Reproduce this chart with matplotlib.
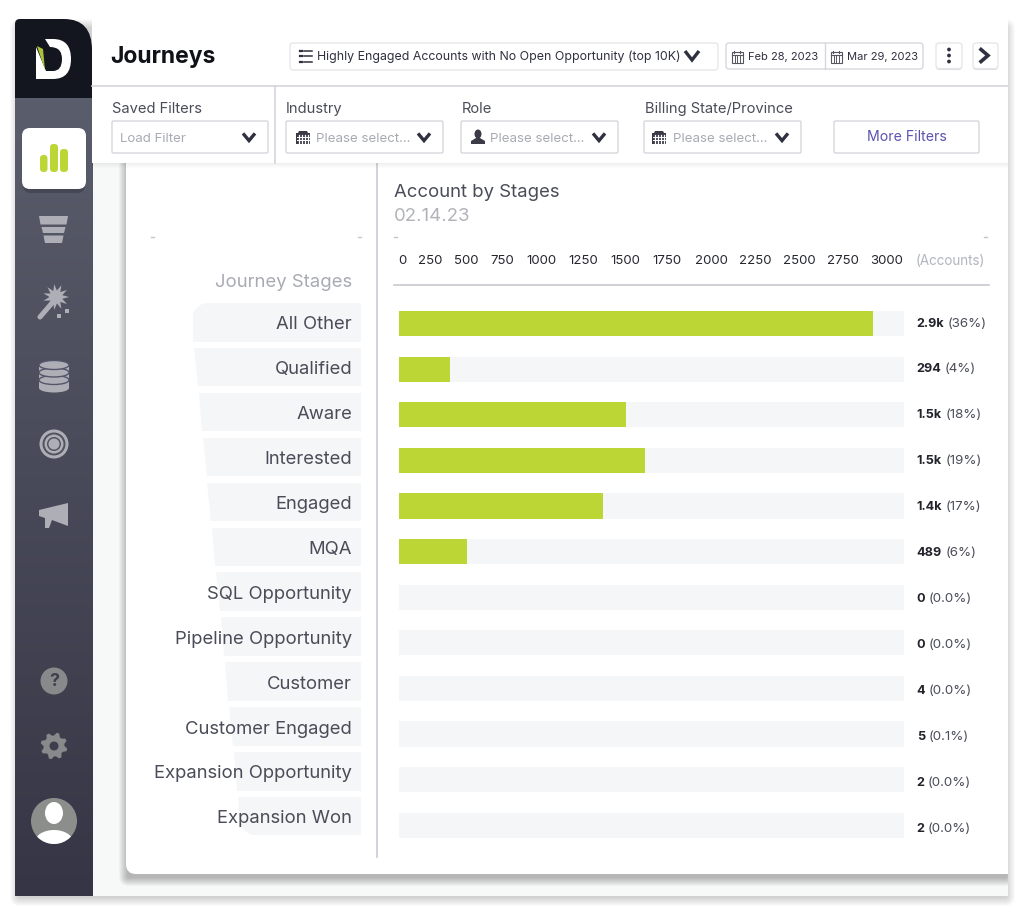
import matplotlib
matplotlib.use("Agg")
import matplotlib.pyplot as plt
import numpy as np
from matplotlib.patches import Circle, Ellipse, FancyBboxPatch, PathPatch, Polygon, Rectangle
from matplotlib.path import Path

plt.rcParams["font.family"] = ["Inter", "DejaVu Sans"]

# chart data
stages = ["All Other", "Qualified", "Aware", "Interested", "Engaged", "MQA", "SQL Opportunity",
          "Pipeline Opportunity", "Customer", "Customer Engaged", "Expansion Opportunity", "Expansion Won"]
bar_lengths = [2900, 312, 1389, 1505, 1248, 416, 0, 0, 0, 0, 0, 0]  # drawn length, on the track scale
value_labels = ["2.9k", "294", "1.5k", "1.5k", "1.4k", "489", "0", "0", "4", "5", "2", "2"]
share_labels = ["(36%)", "(4%)", "(18%)", "(19%)", "(17%)", "(6%)",
                "(0.0%)", "(0.0%)", "(0.0%)", "(0.1%)", "(0.0%)", "(0.0%)"]
axis_labels = ["0", "250", "500", "750", "1000", "1250", "1500", "1750", "2000", "2250", "2500", "2750", "3000"]
axis_label_px = [402, 430, 466, 502, 541, 583, 625, 667, 711, 755, 799, 843, 887]  # labels are not evenly spaced
track_max = 3090

LIME = "#bcd735"
TRACK = "#f5f6f8"
TEXT = "#4a4c58"
MUTED = "#a9abb3"
ICON = "#aeafb6"
DARK = "#2f3040"

fig = plt.figure(figsize=(10.24, 9.16), dpi=100, facecolor="white")
ui = fig.add_axes([0, 0, 1, 1])
ui.set_xlim(0, 1024)
ui.set_ylim(916, 0)
ui.axis("off")


def round_box(x0, y0, x1, y1, r=3, fc="white", ec="none", lw=1, z=3, alpha=None):
    p = FancyBboxPatch((x0 + r, y0 + r), x1 - x0 - 2 * r, y1 - y0 - 2 * r,
                       boxstyle=f"round,pad={r},rounding_size={r}",
                       fc=fc, ec=ec, lw=lw, zorder=z, alpha=alpha)
    ui.add_patch(p)
    return p


def soft_shadow(x0, y0, x1, y1, spread=9, dy=0, strength=0.018, z=1, clip=None):
    for s in range(spread, 0, -1):
        p = round_box(x0 - s, y0 - s + dy, x1 + s, y1 + s + dy, r=s + 1, fc="black", z=z, alpha=strength)
        if clip is not None:
            p.set_clip_path(clip)


def label(x, y, s, size, **kw):
    # y is the middle of the capitals, so descenders do not move the text
    kw.setdefault("zorder", 7)
    ui.text(x, y + 0.36 * size * 100 / 72, s, fontsize=size, va="baseline", **kw)


def chevron(x, y, w=6, h=3.6, color=DARK, lw=2.4, z=6):
    ui.plot([x - w, x, x + w], [y - h, y + h, y - h], color=color, lw=lw, solid_capstyle="butt",
            solid_joinstyle="miter", zorder=z)


def building(x, y, z=6):
    ui.add_patch(Rectangle((x - 7, y - 5), 14, 11, fc="#3a3b47", ec="none", zorder=z))
    ui.add_patch(Polygon([(x - 5, y - 5), (x - 4, y - 7), (x + 4, y - 7), (x + 5, y - 5)], fc="#3a3b47", zorder=z))
    for dx in (-4.5, -1.5, 1.5, 4.5):
        ui.plot([x + dx, x + dx], [y - 3.5, y + 5], color="white", lw=0.9, zorder=z + 1)
    for dy in (-1, 2):
        ui.plot([x - 6, x + 6], [y + dy, y + dy], color="white", lw=0.7, zorder=z + 1)


def person(x, y, color="#3a3b47", z=6):
    ui.add_patch(Ellipse((x, y - 3), 7, 9, fc=color, zorder=z))
    ui.add_patch(Polygon([(x - 7, y + 7), (x - 7, y + 4), (x - 2, y + 1), (x + 2, y + 1), (x + 7, y + 4), (x + 7, y + 7)],
                         fc=color, zorder=z))


def calendar(x, y, z=6):
    ui.add_patch(Rectangle((x - 5.5, y - 5), 11, 11, fc="white", ec="#55565f", lw=0.8, zorder=z))
    ui.plot([x - 5.5, x + 5.5], [y - 2.5, y - 2.5], color="#55565f", lw=0.8, zorder=z + 1)
    for dx in (-2.5, 0, 2.5):
        ui.plot([x + dx, x + dx], [y - 1, y + 4.5], color="#55565f", lw=0.7, zorder=z + 1)
    for dx in (-3, 3):
        ui.plot([x + dx, x + dx], [y - 6.5, y - 4], color="#55565f", lw=0.8, zorder=z + 1)


# window and its background
soft_shadow(19, 27, 1006, 896, spread=9, dy=1, strength=0.02)
ui.add_patch(Rectangle((92, 19), 916, 877, fc="#f7f8f8", lw=0, zorder=2))
ui.add_patch(Rectangle((92, 19), 916, 144, fc="white", lw=0, zorder=5))
window = Rectangle((15, 19), 993, 877, transform=ui.transData)

# sidebar, gradient from top to bottom
grad = np.linspace(0, 1, 256).reshape(-1, 1)
top_rgb = np.array([0x5a, 0x5d, 0x6b]) / 255
bot_rgb = np.array([0x36, 0x35, 0x45]) / 255
ui.imshow(top_rgb + (bot_rgb - top_rgb) * grad[..., None], extent=(15, 92.5, 896, 98), aspect="auto", zorder=2.5)
ui.set_xlim(0, 1024)
ui.set_ylim(916, 0)
ui.add_patch(PathPatch(Path([(15, 98), (15, 24), (15, 19), (20, 19), (64, 19), (92, 19), (92, 50), (92, 98), (15, 98)],
                            [Path.MOVETO, Path.LINETO, Path.CURVE3, Path.CURVE3, Path.LINETO, Path.CURVE3, Path.CURVE3,
                             Path.LINETO, Path.CLOSEPOLY]), fc="#14161f", ec="none", zorder=6))

# logo
ui.add_patch(PathPatch(Path([(45, 39), (53, 39), (71, 39), (71, 59), (71, 79), (53, 79), (36, 79), (36, 47), (46, 71),
                             (53, 71), (62, 71), (62, 59), (62, 47), (50, 47), (45, 39)],
                            [Path.MOVETO, Path.LINETO, Path.CURVE3, Path.CURVE3, Path.CURVE3, Path.CURVE3, Path.LINETO,
                             Path.LINETO, Path.LINETO, Path.LINETO, Path.CURVE3, Path.CURVE3, Path.CURVE3, Path.CURVE3,
                             Path.CLOSEPOLY]), fc="white", ec="none", zorder=7))
ui.add_patch(Polygon([(37, 46), (43, 49), (45, 70)], fc="#a9c43a", zorder=8))

# active tile
round_box(23, 132, 85, 193, r=8, fc="#3a3a48", z=7, alpha=0.55)
round_box(22, 128, 86, 189, r=8, fc="white", z=8)
for x0, x1, y0 in [(40, 47.5, 155), (50, 58, 144), (60, 68, 149)]:
    round_box(x0, y0, x1, 172, r=3.5, fc=LIME, z=9)

# funnel icon
for y0, y1, a, b in [(216, 224.5, 39, 68), (227, 233, 41.5, 65.5), (235.5, 243, 43.5, 63.5)]:
    ui.add_patch(Polygon([(a, y0), (b, y0), (b - 1.5, y1), (a + 1.5, y1)], fc=ICON, zorder=7, joinstyle="round"))

# wand icon
ang = np.linspace(0, 2 * np.pi, 23)[:-1]
rad = np.where(np.arange(22) % 2 == 0, 13, 6.5)
ui.add_patch(Polygon(np.c_[56 + rad * np.cos(ang), 297 + rad * np.sin(ang)], fc=ICON, zorder=7))
ui.plot([40, 52], [317, 303], color=ICON, lw=3.6, solid_capstyle="round", zorder=7)
for sx, sy in [(59, 316), (67, 311)]:
    ui.add_patch(Rectangle((sx - 2, sy - 2), 4, 4, fc=ICON, zorder=7))

# database icon
for cy in (382, 374.5, 367):
    ui.add_patch(Rectangle((39, cy - 2), 30, 8, fc=ICON, zorder=7))
    ui.add_patch(Ellipse((54, cy + 6), 30, 9, fc=ICON, zorder=7))
    ui.add_patch(Ellipse((54, cy - 2), 30, 9, fc=ICON, ec="#53566a", lw=1, zorder=7.2))

# target icon
for r, c in [(14.5, ICON), (11.5, "#52545f"), (9.5, ICON), (7, "#52545f"), (5.5, ICON)]:
    ui.add_patch(Circle((54, 444), r, fc=c, zorder=7))

# megaphone icon
ui.add_patch(Polygon([(39, 510), (68, 503), (68, 526), (52, 520), (49, 528), (45, 528), (45, 518), (39, 516)],
                     fc=ICON, zorder=7))

# help, settings, avatar
ui.add_patch(Circle((54, 681), 13.5, fc="#88898b", zorder=7))
ui.text(54, 681, "?", ha="center", va="center", fontsize=13, fontweight="bold", color="#3f3f4d", zorder=8)
teeth = np.linspace(0, 2 * np.pi, 8 * 4 + 1)[:-1]
rad = np.where(np.arange(32) % 4 < 2, 13.5, 10.5)
ui.add_patch(Polygon(np.c_[54 + rad * np.cos(teeth + 0.2), 746 + rad * np.sin(teeth + 0.2)], fc="#88898b", zorder=7))
ui.add_patch(Circle((54, 746), 4.5, fc="#3e3d4d", zorder=8))
avatar = Circle((54, 821), 23, fc="#8c8e8c", zorder=7)
ui.add_patch(avatar)
head = Ellipse((54, 813), 18, 22, fc="white", zorder=8)
body = Ellipse((54, 842), 38, 24, fc="white", zorder=8)
ui.add_patch(head)
ui.add_patch(body)
body.set_clip_path(avatar)

# content card, square on the right where the window cuts it
soft_shadow(128, 150, 1006, 874, spread=9, dy=3, strength=0.03, z=2.6, clip=window)
round_box(126, 150, 1008, 874, r=10, fc="white", z=3.2)
ui.add_patch(Rectangle((990, 850), 18, 24, fc="white", lw=0, zorder=3.2))
ui.plot([376.5, 376.5], [163, 857], color="#c9ccd6", lw=1.2, zorder=4)

# header row
label(110, 55, "Journeys", 16.5, fontweight="bold", color="#111218", zorder=8)
round_box(290, 43, 718, 70, r=3, ec="#e6e7ea", z=6)
for ly in (50.5, 56, 61.5):
    ui.plot([300, 302], [ly, ly], color=DARK, lw=1.6, zorder=7)
    ui.plot([304, 312], [ly, ly], color=DARK, lw=1.1, zorder=7)
label(317, 56, "Highly Engaged Accounts with No Open Opportunity (top 10K)", 8.9, color=DARK)
chevron(692, 55.5, w=7, h=4.5)
round_box(726, 43, 923, 69, r=3, ec="#d5d7dc", z=6)
ui.plot([824.5, 824.5], [43, 69], color="#d5d7dc", lw=1, zorder=7)
calendar(737, 57)
calendar(836, 57)
label(748, 56.5, "Feb 28, 2023", 8, color=DARK)
label(847, 56.5, "Mar 29, 2023", 8, color=DARK)
for x0, x1 in [(936, 962), (973, 998)]:
    round_box(x0, 44, x1, 70, r=3, fc="#dcdde0", z=5.5)
    round_box(x0, 43, x1, 68.5, r=3, ec="#e6e7ea", z=6)
for dy in (-6, 0, 6):
    ui.add_patch(Circle((949, 55.5 + dy), 1.9, fc=DARK, zorder=7))
ui.plot([981, 988, 981], [49.5, 55.5, 61.5], color=DARK, lw=2.6, solid_joinstyle="miter", zorder=7)
ui.plot([92, 1008], [85.5, 85.5], color="#d3d6dd", lw=1.2, zorder=6)

# filter row
ui.add_patch(Rectangle((92, 86), 916, 77, fc="white", lw=0, zorder=5))
for s in range(5, 0, -1):
    ui.add_patch(Rectangle((92, 163), 916, s, fc="black", alpha=0.012, lw=0, zorder=4.5))
ui.plot([274.5, 274.5], [86, 163], color="#d3d6dd", lw=1.2, zorder=6)
for x, name in [(112, "Saved Filters"), (286, "Industry"), (462, "Role"), (645, "Billing State/Province")]:
    label(x, 107.5, name, 10.6, color=TEXT)
for x0, x1 in [(112, 268), (286, 443), (461, 618), (644, 801), (834, 979)]:
    round_box(x0, 121, x1, 153, r=1.5, ec="#d5d7dc", z=6)
label(120, 137.5, "Load Filter", 9.6, color=MUTED)
for x, cx in [(316, 424), (490, 599), (673, 782)]:
    label(x, 137.5, "Please select...", 9.6, color=MUTED)
    chevron(cx, 137)
chevron(249, 137)
building(303, 138)
person(478, 137)
building(659, 138)
label(906.5, 136, "More Filters", 10.2, color="#5c52ae", ha="center")

# chart headings
label(394, 190, "Account by Stages", 13.35, color=TEXT)
label(394, 214, "02.14.23", 13.35, color="#b1b3b9")
for x in (152, 359, 395, 985):
    ui.plot([x - 1.5, x + 1.5], [237, 237], color="#c4c6cc", lw=1, zorder=7)
label(352, 280, "Journey Stages", 13.35, color=MUTED, ha="right")
label(916, 260, "(Accounts)", 9.7, color="#b3b5bf")
ui.plot([394, 989], [284.5, 284.5], color="#c8cacf", lw=1.2, zorder=7)

# funnel behind the stage names
for i, stage in enumerate(stages):
    top = 303 + 44.9 * i
    bot = top + 38.5
    left = 190 + 4.36 * i
    slant = 3.5
    if i == 0:
        left, slant = 192.7, 0
    ui.add_patch(Polygon([(left, top), (361, top), (361, bot), (left + slant, bot)], fc=TRACK, ec="none", zorder=4))
    label(352, 322.8 + 44.9 * i, stage, 13.3, color=TEXT, ha="right")
# rounded outer corners of first and last rows
ui.add_patch(PathPatch(Path([(192, 302), (192, 322), (192, 302.5), (212, 302.5), (192, 302)],
                            [Path.MOVETO, Path.LINETO, Path.CURVE3, Path.CURVE3, Path.CLOSEPOLY]),
                       fc="white", ec="none", zorder=4.5))
ui.add_patch(PathPatch(Path([(237, 837), (237, 816), (243, 837), (262, 837), (237, 837)],
                            [Path.MOVETO, Path.LINETO, Path.CURVE3, Path.CURVE3, Path.CLOSEPOLY]),
                       fc="white", ec="none", zorder=4.5))

# the bars themselves
ax = fig.add_axes([399 / 1024, 1 - 848 / 916, 505 / 1024, 547.2 / 916], zorder=5)
ax.patch.set_alpha(0)
y = np.arange(len(stages))
ax.barh(y, [track_max] * len(stages), height=0.55, color=TRACK)
ax.barh(y, bar_lengths, height=0.55, color=LIME)
ax.set_xlim(0, track_max)
ax.set_ylim(len(stages) - 0.5, -0.5)
ax.set_yticks([])
ax.set_xticks([(px - 399) / 505 * track_max for px in axis_label_px], axis_labels)
ax.xaxis.tick_top()
ax.tick_params(axis="x", length=0, pad=24.2, labelsize=9.5, labelcolor="#26272f")
for spine in ax.spines.values():
    spine.set_visible(False)

# value and share at the end of each bar; these rows run a little wider than the bars
renderer = fig.canvas.get_renderer()
for i, (val, share) in enumerate(zip(value_labels, share_labels)):
    up = (323.5 + 45.6 * i - (322 + 45.9 * i) - 4.5) * 0.72
    t = ax.annotate(val, xy=(1, i), xycoords=("axes fraction", "data"), xytext=(9.2, up), textcoords="offset points",
                    fontsize=9.1, fontweight="bold", color="#22232b", va="baseline", annotation_clip=False)
    w = t.get_window_extent(renderer).width * 72 / fig.dpi
    ax.annotate(share, xy=(1, i), xycoords=("axes fraction", "data"), xytext=(9.2 + w + 2.4, up),
                textcoords="offset points", fontsize=9.6, color="#4a4c58", va="baseline", annotation_clip=False)

fig.savefig("out.png", dpi=100, facecolor="white")
